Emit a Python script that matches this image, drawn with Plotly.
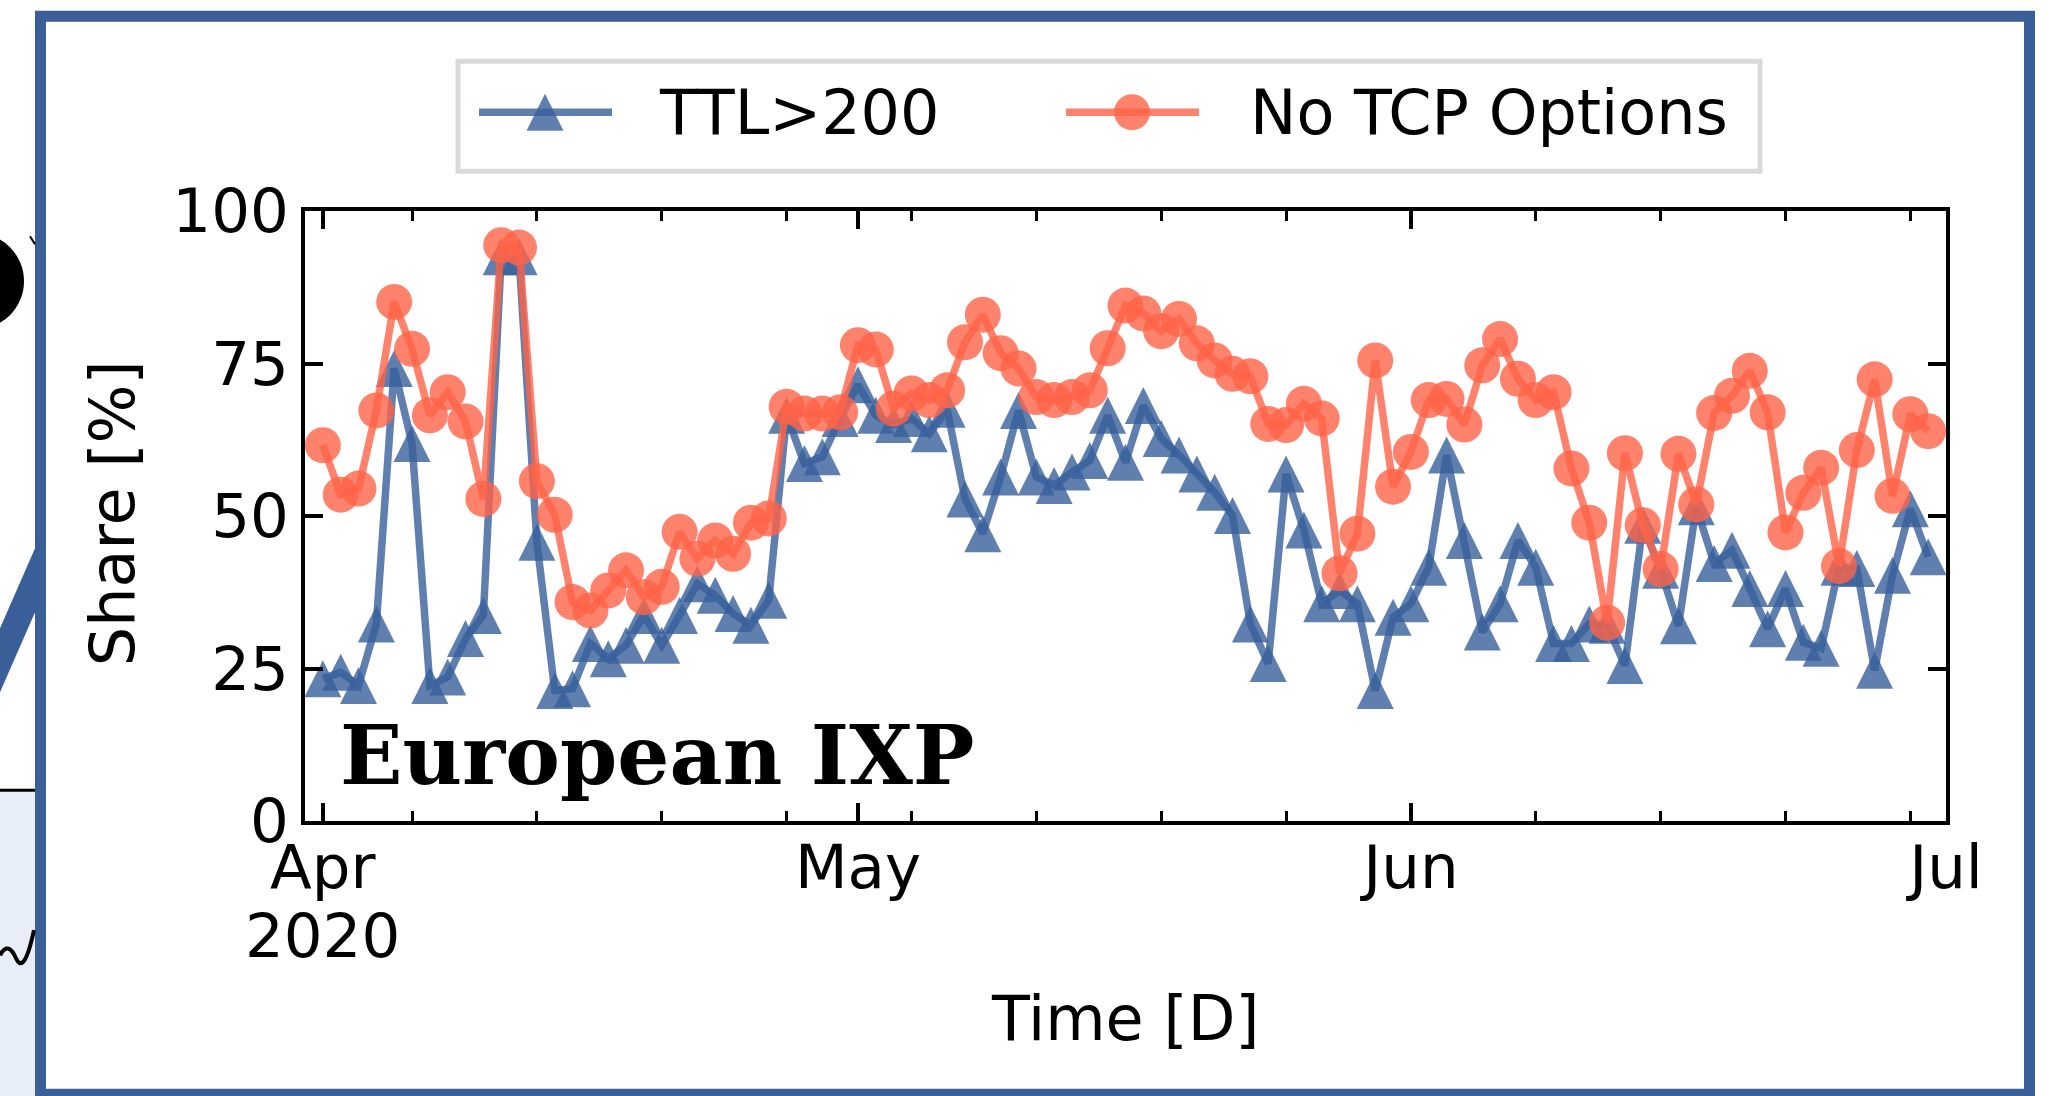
import pandas as pd
import plotly.graph_objects as go

# Daily share of SYN traffic per heuristic at the European IXP
dates = pd.date_range("2020-04-01", "2020-06-30", freq="D")

ttl_over_200 = [
    23.3, 24.4, 22.2, 32.3, 74.2, 61.9, 22.2, 23.6, 29.9, 33.7,
    92.5, 92.5, 45.7, 21.4, 21.7, 29.1, 26.6, 28.8, 33.7, 28.8,
    33.7, 38.9, 37.0, 34.0, 32.1, 36.2, 66.5, 58.6, 59.7, 66.0,
    71.5, 66.5, 65.0, 66.0, 63.5, 67.5, 52.8, 47.1, 56.4, 67.3,
    56.4, 55.0, 57.2, 59.1, 66.5, 58.8, 68.1, 62.7, 60.0, 56.9,
    53.9, 50.1, 32.3, 25.8, 56.9, 47.7, 35.6, 37.8, 35.6, 21.4,
    33.4, 35.6, 41.6, 60.0, 46.0, 31.0, 35.6, 46.0, 41.6, 29.1,
    29.1, 32.3, 32.1, 25.5, 48.5, 41.1, 32.0, 51.5, 42.2, 44.4,
    38.1, 31.5, 38.1, 29.3, 28.3, 41.6, 41.4, 24.7, 40.3, 51.2,
    43.3,
]

no_tcp_options = [
    61.6, 53.5, 54.5, 67.3, 85.1, 77.4, 66.5, 70.3, 65.5, 52.8,
    94.4, 94.0, 55.7, 50.2, 35.9, 34.5, 37.8, 41.1, 36.7, 38.4,
    47.4, 43.0, 46.0, 43.8, 48.9, 49.6, 67.9, 66.8, 66.8, 67.0,
    78.0, 77.3, 67.6, 70.1, 69.0, 70.6, 78.5, 83.0, 76.7, 74.2,
    69.5, 69.0, 69.5, 70.6, 77.5, 84.5, 83.2, 80.3, 82.3, 78.3,
    75.5, 73.3, 72.9, 65.1, 64.9, 68.4, 66.0, 40.6, 47.1, 75.5,
    54.8, 60.5, 69.0, 69.2, 65.0, 74.7, 79.0, 72.5, 69.0, 70.3,
    57.8, 48.9, 32.5, 60.3, 48.5, 41.3, 60.2, 51.9, 66.9, 69.7,
    73.8, 67.0, 47.3, 53.8, 57.9, 41.8, 60.8, 72.4, 53.3, 66.7,
    63.9,
]

month_ticks = ["2020-04-01", "2020-05-01", "2020-06-01", "2020-07-01"]
month_labels = ["Apr", "May", "Jun", "Jul"]
share_ticks = [0, 25, 50, 75, 100]

series_names = ["TTL>200", "No TCP Options"]

# Figure geometry in pixels (plot area edges)
W, H = 2054, 1096
L, R, T, B = 305, 1946, 210.8, 820.8


def px(x):
    return (x - L) / (R - L)


def py(y):
    return (B - y) / (B - T)


BLUE = "rgba(55,95,155,0.8)"
ORANGE = "rgba(255,99,71,0.8)"
FRAME = "#3A5E98"
FONT = "DejaVu Sans"
LW = 7.5

fig = go.Figure()

# Triangles: a downward arrow flipped by 180 deg and shifted by half its size,
# giving a square-bounded upward triangle centred on the point.
TRI = 37
fig.add_trace(go.Scatter(
    x=dates, y=ttl_over_200, mode="lines+markers", name=series_names[0],
    line=dict(color=BLUE, width=LW, backoff=0),
    marker=dict(symbol="arrow-down", angle=180, standoff=TRI / 2, size=TRI,
                color=BLUE, line=dict(width=0)),
    showlegend=False,
))
fig.add_trace(go.Scatter(
    x=dates, y=no_tcp_options, mode="lines+markers", name=series_names[1],
    line=dict(color=ORANGE, width=LW),
    marker=dict(symbol="circle", size=36, color=ORANGE, line=dict(width=0)),
    showlegend=False,
))

shapes = []
annotations = []

# Legend box
shapes.append(dict(type="rect", xref="paper", yref="paper",
                   x0=px(458), x1=px(1760), y0=py(61), y1=py(171),
                   line=dict(color="#d9d9d9", width=5), fillcolor="white",
                   layer="above"))
# Legend entry: TTL>200
ly = 112
shapes.append(dict(type="line", xref="paper", yref="paper",
                   x0=px(479), x1=px(612), y0=py(ly), y1=py(ly),
                   line=dict(color=BLUE, width=LW), layer="above"))
cx, h = 545, TRI / 2
shapes.append(dict(type="path", xref="paper", yref="paper",
                   path=f"M {px(cx - h)},{py(ly + h)} L {px(cx + h)},{py(ly + h)} "
                        f"L {px(cx)},{py(ly - h)} Z",
                   fillcolor=BLUE, line=dict(width=0), layer="above"))
annotations.append(dict(text=series_names[0], xref="paper", yref="paper",
                        x=px(657), y=py(ly), xanchor="left", yanchor="middle",
                        showarrow=False, font=dict(family=FONT, size=62, color="black")))
# Legend entry: No TCP Options
shapes.append(dict(type="line", xref="paper", yref="paper",
                   x0=px(1066), x1=px(1199), y0=py(ly), y1=py(ly),
                   line=dict(color=ORANGE, width=LW), layer="above"))
cx, rr = 1132, 18
shapes.append(dict(type="circle", xref="paper", yref="paper",
                   x0=px(cx - rr), x1=px(cx + rr), y0=py(ly + rr), y1=py(ly - rr),
                   fillcolor=ORANGE, line=dict(width=0), layer="above"))
annotations.append(dict(text=series_names[1], xref="paper", yref="paper",
                        x=px(1248), y=py(ly), xanchor="left", yanchor="middle",
                        showarrow=False, font=dict(family=FONT, size=62, color="black")))

# Outer frame
shapes.append(dict(type="rect", xref="paper", yref="paper",
                   x0=px(40.5), x1=px(2029.5), y0=py(16), y1=py(1094),
                   line=dict(color=FRAME, width=11), layer="above"))

# Neighbouring panel bits cut off at the left edge
shapes.append(dict(type="circle", xref="paper", yref="paper",
                   x0=px(-72), x1=px(24), y0=py(329), y1=py(233),
                   fillcolor="black", line=dict(width=0), layer="above"))
shapes.append(dict(type="path", xref="paper", yref="paper",
                   path=f"M {px(0)},{py(628)} L {px(35)},{py(548)} L {px(35)},{py(612)} "
                        f"L {px(0)},{py(692)} Z",
                   fillcolor=FRAME, line=dict(width=0), layer="above"))
shapes.append(dict(type="rect", xref="paper", yref="paper",
                   x0=px(0), x1=px(35), y0=py(790), y1=py(1096),
                   fillcolor="#E8EEF8", line=dict(width=0), layer="above"))
shapes.append(dict(type="line", xref="paper", yref="paper",
                   x0=px(0), x1=px(35), y0=py(790), y1=py(790),
                   line=dict(color="black", width=3), layer="above"))
shapes.append(dict(type="path", xref="paper", yref="paper",
                   path=f"M {px(0)},{py(955)} Q {px(8)},{py(940)} {px(16)},{py(958)} "
                        f"T {px(34)},{py(930)}",
                   line=dict(color="black", width=4), layer="above"))
shapes.append(dict(type="line", xref="paper", yref="paper",
                   x0=px(30), x1=px(35), y0=py(236), y1=py(244),
                   line=dict(color="black", width=2), layer="above"))

# Panel label
annotations.append(dict(text="<b>European IXP</b>", xref="paper", yref="paper",
                        x=px(338), y=py(755), xanchor="left", yanchor="middle",
                        showarrow=False,
                        font=dict(family="DejaVu Serif", size=82, color="black")))

# Axis titles and year label
annotations.append(dict(text="Share [%]", xref="paper", yref="paper",
                        x=px(112), y=py(513), xanchor="center", yanchor="middle",
                        textangle=-90, showarrow=False,
                        font=dict(family=FONT, size=62, color="black")))
annotations.append(dict(text="Time [D]", xref="paper", yref="paper",
                        x=0.5, y=py(1018), xanchor="center", yanchor="middle",
                        showarrow=False, font=dict(family=FONT, size=62, color="black")))
annotations.append(dict(text="2020", xref="x", yref="paper",
                        x=month_ticks[0], y=py(935), xanchor="center", yanchor="middle",
                        showarrow=False, font=dict(family=FONT, size=61, color="black")))

fig.update_layout(
    width=W, height=H, autosize=False,
    margin=dict(l=L, r=W - R, t=T, b=H - B, pad=0),
    paper_bgcolor="white", plot_bgcolor="white",
    showlegend=False,
    shapes=shapes, annotations=annotations,
    font=dict(family=FONT, color="black"),
)

fig.update_xaxes(
    type="date", range=["2020-03-31", "2020-07-01"],
    tickmode="array", tickvals=month_ticks, ticktext=month_labels,
    ticks="inside", ticklen=18, tickwidth=4, tickcolor="black",
    ticklabelstandoff=-10,
    showline=True, linewidth=4, linecolor="black", mirror="ticks",
    showgrid=False, zeroline=False,
    tickfont=dict(family=FONT, size=61, color="black"),
    minor=dict(ticks="inside", ticklen=10, tickwidth=3, tickcolor="black",
               dtick=7 * 24 * 3600 * 1000, tick0="2020-04-06", showgrid=False),
)
fig.update_yaxes(
    range=[0, 100], tickmode="array", tickvals=share_ticks,
    ticks="inside", ticklen=18, tickwidth=4, tickcolor="black",
    showline=True, linewidth=4, linecolor="black", mirror="ticks",
    showgrid=False, zeroline=False,
    tickfont=dict(family=FONT, size=61, color="black"),
)

fig.write_html("out.html")
